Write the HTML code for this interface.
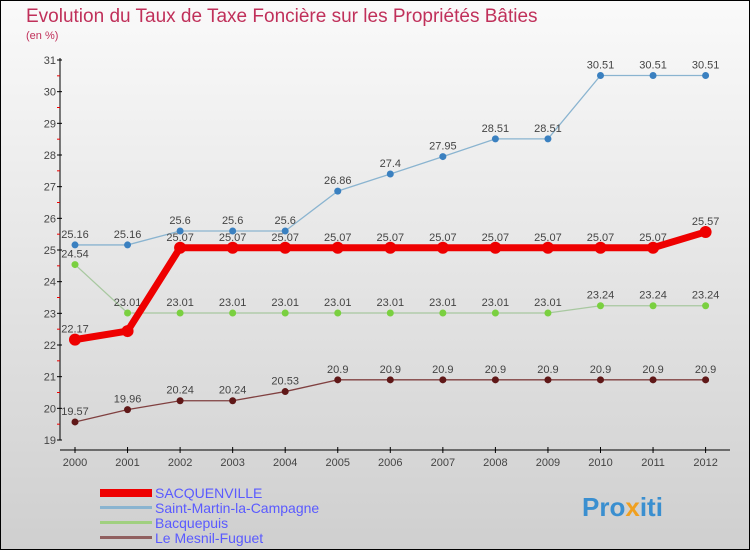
<!DOCTYPE html>
<html><head><meta charset="utf-8"><style>
body{margin:0}
#c{width:750px;height:550px;position:relative;overflow:hidden}
svg text{font-family:"Liberation Sans",sans-serif}
</style></head><body>
<div id="c">
<svg id="s" width="750" height="550" xmlns="http://www.w3.org/2000/svg">
<defs><linearGradient id="bg" x1="0" y1="0" x2="0" y2="1"><stop offset="0" stop-color="#fafafa"/><stop offset="1" stop-color="#cfcfcf"/></linearGradient></defs>
<rect x="0.5" y="0.5" width="749" height="549" fill="url(#bg)" stroke="#000"/>
<text x="26" y="22" font-size="19" fill="#c0305a">Evolution du Taux de Taxe Foncière sur les Propriétés Bâties</text>
<text x="26" y="39" font-size="11" fill="#c0305a">(en %)</text>
<g id="axes"></g><g id="series"></g>
<g>
<rect x="100" y="489" width="52" height="8" fill="#e00"/>
<text x="155" y="498" font-size="14" fill="#5a5aff">SACQUENVILLE</text>
<rect x="100" y="506" width="52" height="3" fill="#8ab4d0"/>
<text x="155" y="513" font-size="14" fill="#5a5aff">Saint-Martin-la-Campagne</text>
<rect x="100" y="521" width="52" height="3" fill="#a0d080"/>
<text x="155" y="528" font-size="14" fill="#5a5aff">Bacquepuis</text>
<rect x="100" y="536" width="52" height="3" fill="#906060"/>
<text x="155" y="543" font-size="14" fill="#5a5aff">Le Mesnil-Fuguet</text>
</g>
<g><text x="582" y="516" font-size="26" font-weight="bold" fill="#3a8fd0">Pro<tspan fill="#f0a020">x</tspan>iti</text></g>
</svg></div>
<script>
const years=[2000,2001,2002,2003,2004,2005,2006,2007,2008,2009,2010,2011,2012];
const yTicks=[19,20,21,22,23,24,25,26,27,28,29,30,31];
const sacq=[22.17,22.44,25.07,25.07,25.07,25.07,25.07,25.07,25.07,25.07,25.07,25.07,25.57];
const sacqLabels=["22.17","","25.07","25.07","25.07","25.07","25.07","25.07","25.07","25.07","25.07","25.07","25.57"];
const stMartin=[25.16,25.16,25.6,25.6,25.6,26.86,27.4,27.95,28.51,28.51,30.51,30.51,30.51];
const stMartinLabels=["25.16","25.16","25.6","25.6","25.6","26.86","27.4","27.95","28.51","28.51","30.51","30.51","30.51"];
const bacq=[24.54,23.01,23.01,23.01,23.01,23.01,23.01,23.01,23.01,23.01,23.24,23.24,23.24];
const bacqLabels=["24.54","23.01","23.01","23.01","23.01","23.01","23.01","23.01","23.01","23.01","23.24","23.24","23.24"];
const mesnil=[19.57,19.96,20.24,20.24,20.53,20.9,20.9,20.9,20.9,20.9,20.9,20.9,20.9];
const mesnilLabels=["19.57","19.96","20.24","20.24","20.53","20.9","20.9","20.9","20.9","20.9","20.9","20.9","20.9"];
const NS="http://www.w3.org/2000/svg";
const x=i=>75+i*52.55, y=v=>440-(v-19)*(380/12);
function mk(t,a,p){const e=document.createElementNS(NS,t);for(const k in a)e.setAttribute(k,a[k]);p.appendChild(e);return e;}
const ax=document.getElementById('axes'), sg=document.getElementById('series');
let l=mk('line',{x1:60,y1:58,x2:60,y2:440,stroke:'#000'},ax);


l=mk('line',{x1:60,y1:450,x2:730,y2:450,stroke:'#000'},ax);


yTicks.forEach(v=>{mk('line',{x1:57,x2:62,y1:y(v),y2:y(v),stroke:'#000'},ax);
 if(v<31)mk('line',{x1:57,x2:60,y1:y(v+0.5),y2:y(v+0.5),stroke:'#e00'},ax);
 const t=mk('text',{x:56,y:y(v)+4,'font-size':11,'text-anchor':'end',fill:'#444'},ax);t.textContent=v;
 
 });
years.forEach((yr,i)=>{mk('line',{x1:x(i),x2:x(i),y1:447,y2:453,stroke:'#000'},ax);
 const t=mk('text',{x:x(i),y:466,'font-size':11,'text-anchor':'middle',fill:'#444'},ax);t.textContent=yr;
 
 });
function series(vals,labels,color,dot,w,r,name){
 const g=mk('g',{},sg);
 
 
 mk('polyline',{points:vals.map((v,i)=>x(i)+','+y(v)).join(' '),fill:'none',stroke:color,'stroke-width':w},g);
 vals.forEach((v,i)=>{const c=mk('circle',{cx:x(i),cy:y(v),r:r,fill:dot},g);
  
  
  if(labels[i]){const t=mk('text',{x:x(i),y:y(v)-7,'font-size':11,'text-anchor':'middle',fill:'#444'},g);t.textContent=labels[i];
  
  }});
}
series(stMartin,stMartinLabels,'#8ab4d0','#3a80c0',1.3,3.5,'saint-martin');
series(bacq,bacqLabels,'#a8c8a0','#7ad040',1.3,3.5,'bacquepuis');
series(mesnil,mesnilLabels,'#804040','#601818',1.3,3.5,'le-mesnil-fuguet');
series(sacq,sacqLabels,'#e00','#e00',7,6,'sacquenville');
</script>
</body></html>
